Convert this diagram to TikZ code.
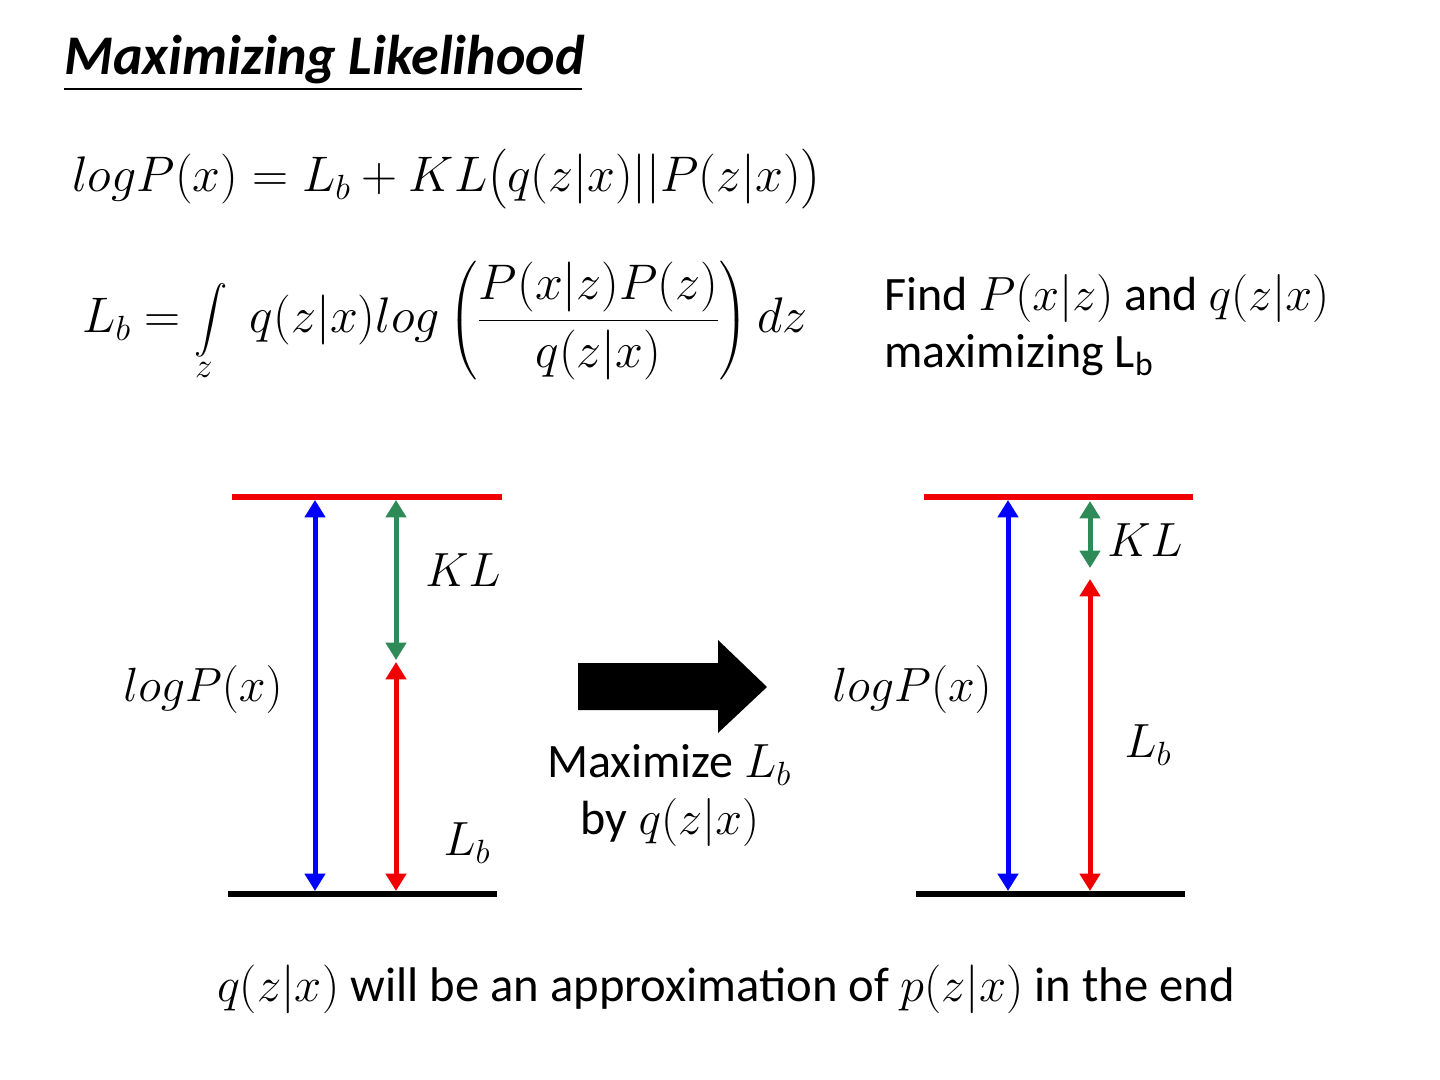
\RequirePackage{fix-cm}
\documentclass[tikz,border=0pt]{standalone}
\usepackage{exscale}
\usepackage{fontspec}
\setmainfont{Carlito}
\usetikzlibrary{arrows.meta}
\definecolor{kred}{RGB}{240,0,0}
\definecolor{kblue}{RGB}{0,0,255}
\definecolor{kgreen}{RGB}{46,139,87}
\tikzset{
  body/.style={inner sep=0pt, font=\fontsize{36}{43}\selectfont},
  eqn/.style={inner sep=0pt, font=\fontsize{37.5}{45}\selectfont},
  lab/.style={inner sep=0pt, font=\fontsize{36}{43}\selectfont},
  dbl/.style={line width=3.75pt, {Triangle[width=15pt,length=13pt]}-{Triangle[width=15pt,length=13pt]}},
  level/.style={line width=3.9pt},
}
\begin{document}
\begin{tikzpicture}[x=0.75pt,y=-0.75pt]
\useasboundingbox[fill=white] (0,0) rectangle (1440,1080);
% title
\node[inner sep=0pt, anchor=base west, font=\fontsize{42}{50}\selectfont\bfseries\itshape] (title) at (64,75) {Maximizing Likelihood};
\coordinate (ul1) at (64,89);
\coordinate (ul2) at (582,89);
\draw[line width=2.2pt] (ul1) -- (ul2);
% equations
\node[eqn, anchor=base west] (eq1) at (72,192)
  {$logP(x) = L_b + KL\bigl(q(z|x)||P(z|x)\bigr)$};
\node[eqn, anchor=base west] (eq2) at (82,333)
  {$\displaystyle L_b = \int\limits_z\; q(z|x)log\left(\frac{P(x|z)P(z)}{q(z|x)}\right)dz$};
\node[body, anchor=base west] (find1) at (884,311) {Find $P(x|z)$ and $q(z|x)$};
\node[body, anchor=base west] (find2) at (884,368) {maximizing L\textsubscript{b}};
% left diagram
\coordinate (lt1) at (232,497); \coordinate (lt2) at (502,497);
\coordinate (lb1) at (228,894); \coordinate (lb2) at (497,894);
\draw[level, kred] (lt1) -- (lt2);
\draw[level, black, line width=4.6pt] (lb1) -- (lb2);
\coordinate (lbT) at (315,500); \coordinate (lbB) at (315,891);
\coordinate (lgT) at (396,500); \coordinate (lgB) at (396,660);
\coordinate (lrT) at (396,662); \coordinate (lrB) at (396,891);
\draw[dbl, kblue] (lbT) -- (lbB);
\draw[dbl, kgreen] (lgT) -- (lgB);
\draw[dbl, kred] (lrT) -- (lrB);
\node[lab] (lKL) at (463,570) {$KL$};
\node[lab] (llog) at (203,690) {$logP(x)$};
\node[lab] (lLb) at (467,843) {$L_b$};
% big arrow
\fill[black] (578,663) -- (718,663) -- (718,640) -- (767,687) -- (718,733) -- (718,710) -- (578,710) -- cycle;
\node[body] (max1) at (669,765) {Maximize $L_b$};
\node[body] (max2) at (670,822) {by $q(z|x)$};
% right diagram
\coordinate (rt1) at (924,497); \coordinate (rt2) at (1193,497);
\coordinate (rb1) at (916,894); \coordinate (rb2) at (1185,894);
\draw[level, kred] (rt1) -- (rt2);
\draw[level, black, line width=4.6pt] (rb1) -- (rb2);
\coordinate (rbT) at (1008,500); \coordinate (rbB) at (1008,891);
\coordinate (rgT) at (1090,501); \coordinate (rgB) at (1090,568);
\coordinate (rrT) at (1090,579); \coordinate (rrB) at (1090,891);
\draw[dbl, kblue] (rbT) -- (rbB);
\draw[dbl, kgreen] (rgT) -- (rgB);
\draw[dbl, kred] (rrT) -- (rrB);
\node[lab] (rKL) at (1145,540) {$KL$};
\node[lab] (rlog) at (912,690) {$logP(x)$};
\node[lab] (rLb) at (1148,745) {$L_b$};
% bottom
\node[body, anchor=base, font=\fontsize{36.5}{44}\selectfont] (bottom) at (726,1001) {$q(z|x)$ will be an approximation of $p(z|x)$ in the end};
\end{tikzpicture}
\end{document}
